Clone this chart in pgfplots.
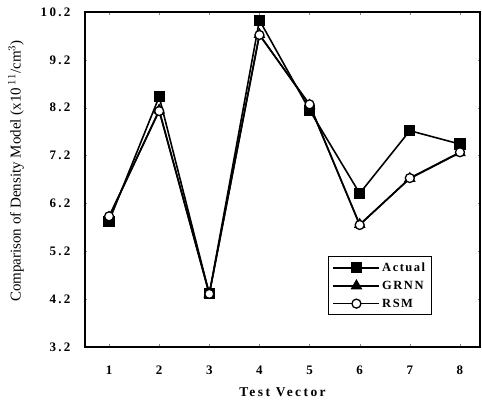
\documentclass[border=0pt]{standalone}
\usepackage{fontspec}
\setmainfont{Liberation Serif}
\newfontfamily\lsfont[LetterSpace=18]{Liberation Serif}
\newfontfamily\lsfontb[LetterSpace=12]{Liberation Serif}
\usepackage{pgfplots}
\pgfplotsset{compat=1.18}
\begin{document}
\begin{tikzpicture}
\begin{axis}[
  scale only axis,
  width=395pt, height=335pt,
  xmin=0.52, xmax=8.4,
  ymin=3.2, ymax=10.2,
  xtick={1,2,3,4,5,6,7,8},
  ytick={3.2,4.2,5.2,6.2,7.2,8.2,9.2,10.2},
  yticklabel style={/pgf/number format/fixed, /pgf/number format/fixed zerofill, /pgf/number format/precision=1},
  /pgf/number format/assume math mode=true,
  ticklabel style={font=\fontsize{13}{15}\lsfont\bfseries},
  yticklabel style={xshift=-11pt},
  xticklabel style={anchor=center, yshift=-23pt},
  tick align=inside,
  major tick length=2.5pt,
  axis line style={line width=1.3pt},
  xlabel={\lsfont\bfseries Test Vector},
  every axis x label/.style={at={(axis description cs:0.5,-0.134)}, anchor=center},
  xlabel style={font=\fontsize{13.5}{15}\selectfont},
  ylabel={Comparison of Density Model (x10\,$^{11}$/cm$^3$)},
  every axis y label/.style={at={(axis description cs:-0.1747,0.525)}, anchor=center, rotate=90},
  ylabel style={font=\fontsize{15}{17}\selectfont},
  legend style={at={(0.878,0.095)}, anchor=south east, draw=black, line width=1.3pt,
    font=\fontsize{12.5}{14}\lsfontb\bfseries, row sep=4pt, inner sep=4pt},
  legend cell align=left,
  legend image code/.code={
    \draw[mark repeat=2,mark phase=2,#1] plot coordinates {(0pt,0pt) (23pt,0pt) (46pt,0pt)};
  },
  every axis plot/.append style={line width=1.6pt, black},
]
\addplot[mark=square*, mark size=4.8pt, mark options={solid, fill=black}] coordinates {
(1,5.83) (2,8.43) (3,4.31) (4,10.03) (5,8.15) (6,6.41) (7,7.72) (8,7.44)};
\addlegendentry{Actual}
\addplot[mark=triangle*, mark size=5.2pt, mark options={solid, fill=black}] coordinates {
(1,5.91) (2,8.15) (3,4.31) (4,9.73) (5,8.25) (6,5.76) (7,6.72) (8,7.26)};
\addlegendentry{GRNN}
\addplot[mark=*, mark size=4.5pt, mark options={solid, fill=white, line width=1.3pt}] coordinates {
(1,5.93) (2,8.13) (3,4.31) (4,9.72) (5,8.27) (6,5.75) (7,6.73) (8,7.27)};
\addlegendentry{RSM}
\end{axis}
\pgfresetboundingbox
\path ([xshift=-85pt,yshift=-59pt]current axis.south west) rectangle ([xshift=2pt,yshift=12pt]current axis.north east);
\end{tikzpicture}
\end{document}
